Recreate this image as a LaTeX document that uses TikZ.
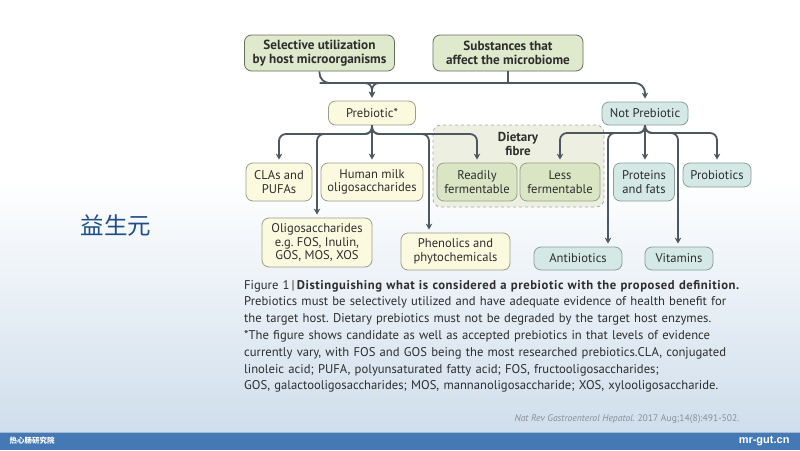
\documentclass[tikz,border=0pt]{standalone}
\usepackage{fontspec}
\setmainfont{PT Sans}
\newfontfamily\cjk{Noto Sans CJK SC}
\newfontfamily\webfont{Liberation Sans}
\usetikzlibrary{arrows.meta,positioning}
\frenchspacing

\definecolor{linkcol}{HTML}{4B5862}
\definecolor{textcol}{HTML}{2E2E2E}
\definecolor{topfill}{HTML}{DFE9CC}
\definecolor{topline}{HTML}{66705C}
\definecolor{prefill}{HTML}{FBF9DE}
\definecolor{preline}{HTML}{9C9C8A}
\definecolor{fibrefill}{HTML}{DAE5C4}
\definecolor{fibreline}{HTML}{98A088}
\definecolor{regionfill}{HTML}{EDF0E1}
\definecolor{regionline}{HTML}{A9ABA2}
\definecolor{notfill}{HTML}{D4E8E6}
\definecolor{notline}{HTML}{8A9E9C}
\definecolor{bgblue}{HTML}{CFDEEC}
\definecolor{barblue}{HTML}{4479B4}
\definecolor{barline}{HTML}{A3BCD6}
\definecolor{titlecol}{HTML}{1F4E8A}
\definecolor{citecol}{HTML}{8A8F96}

\tikzset{
  box/.style={draw, rounded corners=7pt, line width=0.8pt, align=center, inner sep=0pt,
    text=textcol, font=\fontsize{12.6}{13.5}\selectfont},
  topbox/.style={box, draw=topline, fill=topfill, font=\bfseries\fontsize{13.2}{14}\selectfont,
    minimum width=150pt, minimum height=36pt},
  prebox/.style={box, draw=preline, fill=prefill},
  fibrebox/.style={box, draw=fibreline, fill=fibrefill, minimum width=80pt, minimum height=38pt},
  notbox/.style={box, draw=notline, fill=notfill},
  region/.style={draw=regionline, fill=regionfill, dashed, line width=0.8pt, rounded corners=8pt,
    minimum width=171pt, minimum height=82pt, inner sep=0pt},
  wire/.style={draw=linkcol, line width=1.8pt, rounded corners=7pt},
  link/.style={wire, -{Stealth[length=6pt,width=6.5pt]}, shorten >=3pt},
}

\begin{document}
\begin{tikzpicture}[x=1pt, y=-1pt]
  \useasboundingbox (0,0) rectangle (800,450);
  % background
  \fill[white] (0,0) rectangle (800,180);
  \shade[top color=white, bottom color=bgblue] (0,179) rectangle (800,432);
  \fill[barblue] (0,432) rectangle (800,450);
  \draw[barline, line width=1pt] (0,432) -- (800,432);

  \node[font=\cjk\fontsize{23.5}{24}\selectfont, text=titlecol] (title) at (116,226) {益生元}; %

  % dietary fibre group
  \node[region] (fibre) at (518.5,166) {}; %
  \node[font=\bfseries\fontsize{13}{13.5}\selectfont, text=textcol, align=center] (fibrelabel) at (518,144) {Dietary\\fibre}; %

  % boxes
  \node[topbox] (sel) at (319.5,53) {Selective utilization\\by host microorganisms}; %
  \node[topbox] (subst) at (508,53) {Substances that\\affect the microbiome}; %
  \node[prebox, minimum width=87pt, minimum height=24pt] (pre) at (372,113) {Prebiotic*}; %
  \node[notbox, minimum width=86pt, minimum height=23pt] (notpre) at (645,113.5) {Not Prebiotic}; %

  \node[prebox, minimum width=66pt, minimum height=38pt] (cla) at (279,182) {CLAs and\\PUFAs}; %
  \node[prebox, minimum width=102pt, minimum height=38pt] (hmo) at (372,182) {Human milk\\oligosaccharides}; %
  \node[fibrebox] (ready) at (477,182) {Readily\\fermentable}; %
  \node[fibrebox] (less) at (560,182) {Less\\fermentable}; %
  \node[notbox, minimum width=61pt, minimum height=38pt] (prot) at (644,182) {Proteins\\and fats}; %
  \node[notbox, minimum width=68pt, minimum height=24pt] (probio) at (717,175) {Probiotics}; %

  \node[prebox, minimum width=110pt, minimum height=49pt] (oligo) at (317,242.5) {Oligosaccharides\\e.g. FOS, Inulin,\\GOS, MOS, XOS}; %
  \node[prebox, minimum width=109pt, minimum height=37pt] (phen) at (455.5,251.5) {Phenolics and\\phytochemicals}; %
  \node[notbox, minimum width=88pt, minimum height=23pt] (antib) at (578,258.5) {Antibiotics}; %
  \node[notbox, minimum width=68pt, minimum height=23pt] (vit) at (679,258.5) {Vitamins}; %

  % junctions
  \coordinate (jt) at (0,83); %
  \coordinate (jp) at (0,134); %
  \coordinate (jn) at (0,133); %
  \coordinate (phendrop) at ([xshift=-26.5pt]phen.north); %
  \coordinate (antibdrop) at ([xshift=30pt]antib.north); %
  \coordinate (vitdrop) at ([xshift=-1pt]vit.north); %

  % connectors
  \draw[link, rounded corners=10pt] (sel.south) |- (notpre.north |- jt) -- (notpre.north); %
  \draw[wire] (subst.south) -- (subst.south |- jt); %
  \draw[link] (sel.south |- jt) -| (pre.north); %
  \draw[link] (subst.south |- jt) -| (pre.north); %

  \draw[link] (pre.south) -- (hmo.north); %
  \draw[link] (pre.south) |- (cla.north |- jp) -- (cla.north); %
  \draw[link] (pre.south) |- (oligo.north |- jp) -- (oligo.north); %
  \draw[link] (pre.south) |- (phendrop |- jp) -- (phendrop); %
  \draw[link] (pre.south) |- (ready.north |- jp) -- (ready.north); %

  \draw[link] (notpre.south) -- (notpre.south |- prot.north); %
  \draw[link] (notpre.south) |- (less.north |- jn) -- (less.north); %
  \draw[link] (notpre.south) |- (antibdrop |- jn) -- (antibdrop); %
  \draw[link] (notpre.south) |- (vitdrop |- jn) -- (vitdrop); %
  \draw[link] (notpre.south) |- (probio.north |- jn) -- (probio.north); %

  % caption
  \node[anchor=base west, text width=540pt, align=left, inner sep=0pt, text=textcol,
    font=\fontsize{12.65}{16.8}\selectfont] (caption) at (244,289) {%
    Figure 1\,|\,{\bfseries\addfontfeature{LetterSpace=4.5}Distinguishing what is considered a prebiotic with the proposed definition.}\\
    Prebiotics must be selectively utilized and have adequate evidence of health benefit for\\
    the target host. Dietary prebiotics must not be degraded by the target host enzymes.\\{}%
    *The figure shows candidate as well as accepted prebiotics in that levels of evidence\\
    currently vary, with FOS and GOS being the most researched prebiotics.CLA, conjugated\\
    linoleic acid; PUFA, polyunsaturated fatty acid; FOS, fructooligosaccharides;\\
    GOS, galactooligosaccharides; MOS, mannanoligosaccharide; XOS, xylooligosaccharide.}; %
  \node[anchor=base east, font=\fontsize{9.6}{10}\selectfont, text=citecol] (cite) at (743,421)
    {\textit{Nat Rev Gastroenterol Hepatol.} 2017 Aug;14(8):491-502.}; %

  % footer
  \node[anchor=west, font=\cjk\bfseries\fontsize{7.5}{8}\selectfont, text=white] (brand) at (6,441) {热心肠研究院}; %
  \node[anchor=east, font=\webfont\bfseries\fontsize{11}{12}\selectfont, text=white] (site) at (793,441) {mr-gut.cn}; %
\end{tikzpicture}
\end{document}
